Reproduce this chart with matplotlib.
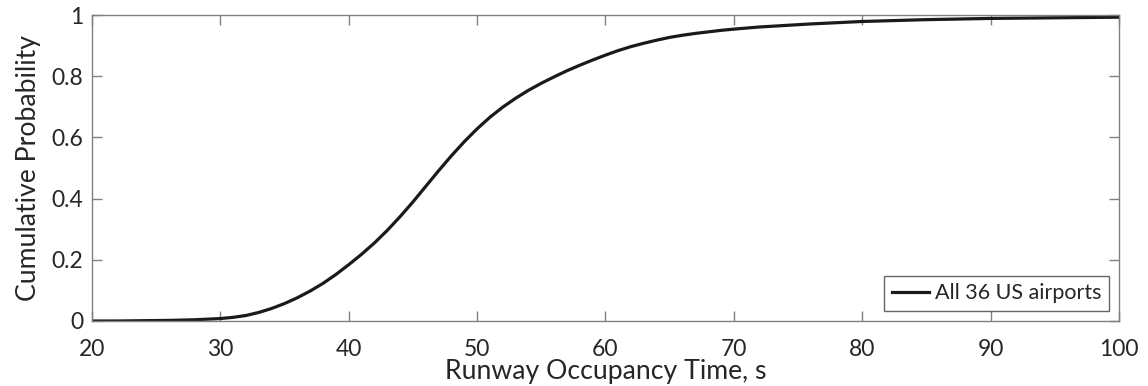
import matplotlib
matplotlib.use("Agg")
import matplotlib.pyplot as plt

# runway occupancy time (s) and cumulative probability
rot = [20, 22, 24, 26, 28, 30, 31, 32, 33, 34, 35, 36, 37, 38, 39, 40,
       41, 42, 43, 44, 45, 46, 47, 48, 49, 50, 51, 52, 53, 54, 55, 56,
       57, 58, 59, 60, 61, 62, 63, 64, 65, 66, 67, 68, 69, 70, 72, 74,
       76, 78, 80, 85, 90, 95, 100]
cdf = [0.000, 0.000, 0.001, 0.002, 0.004, 0.008, 0.012, 0.018, 0.028, 0.041,
       0.057, 0.076, 0.098, 0.123, 0.152, 0.184, 0.218, 0.255, 0.296, 0.341,
       0.389, 0.440, 0.491, 0.540, 0.586, 0.628, 0.666, 0.699, 0.728, 0.754,
       0.777, 0.798, 0.818, 0.836, 0.853, 0.869, 0.884, 0.897, 0.908, 0.918,
       0.927, 0.934, 0.940, 0.945, 0.950, 0.954, 0.961, 0.966, 0.971, 0.975,
       0.979, 0.985, 0.989, 0.991, 0.993]

plt.rcParams['font.family'] = ['Lato', 'DejaVu Sans']
txt = '#262626'
edge = '#808080'

fig = plt.figure(figsize=(11.48, 3.86), dpi=100)
ax = fig.add_axes([0.0801, 0.1684, 0.8946, 0.7926])

ax.plot(rot, cdf, color='#1a1a1a', lw=2.3, label='All 36 US airports')

ax.set_xlim(20, 100)
ax.set_ylim(0, 1)
ax.set_xticks(range(20, 101, 10))
ax.set_yticks([0, 0.2, 0.4, 0.6, 0.8, 1])
ax.set_yticklabels(['0', '0.2', '0.4', '0.6', '0.8', '1'])

for s in ax.spines.values():
    s.set_color(edge)
    s.set_linewidth(1.0)
ax.tick_params(direction='in', length=7, width=1.0, color=edge,
               top=True, right=True, labelsize=16.5, labelcolor=txt)
ax.tick_params(axis='x', pad=13)
ax.tick_params(axis='y', pad=6)

ax.set_xlabel('Runway Occupancy Time, s', fontsize=19.2, color=txt, labelpad=-1)
ax.set_ylabel('Cumulative Probability', fontsize=19.2, color=txt, labelpad=8)

leg = ax.legend(loc='lower right', fontsize=15.5, frameon=True, fancybox=False,
                handlelength=1.75, handletextpad=0.25, borderpad=0.35,
                borderaxespad=0.47)
leg.get_frame().set_edgecolor('#404040')
leg.get_frame().set_linewidth(1.0)
for t in leg.get_texts():
    t.set_color(txt)

fig.savefig('out.png', dpi=100)
